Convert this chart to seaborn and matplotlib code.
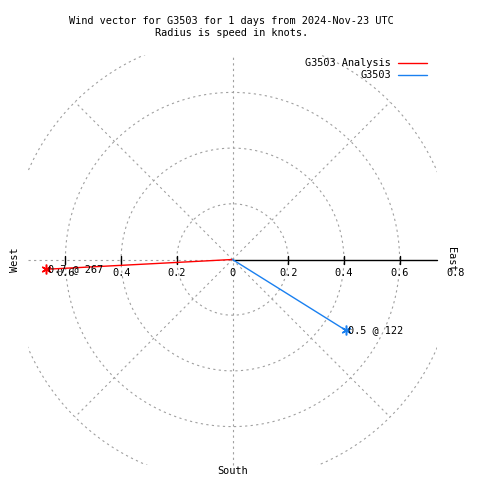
import numpy as np
import pandas as pd
import matplotlib
matplotlib.use("Agg")
import matplotlib.pyplot as plt
import seaborn as sns
from matplotlib.patches import Rectangle

# --- Data ---
stations = ["G3503 Analysis", "G3503"]
speeds = [0.67, 0.48]          # knots
directions = [267, 122]        # degrees clockwise from north
line_colors = ["#ff0000", "#1a80f0"]
ring_radii = [0.2, 0.4, 0.6, 0.8]
tick_values = [0.2, 0.4, 0.6]
spoke_angles = [45, 135, 225, 315]

title = "Wind vector for G3503 for 1 days from 2024-Nov-23 UTC\nRadius is speed in knots."

# --- Geometry (px -> data) ---
scale = 278.5
cx, cy = 232.5, 220.5
box = 205 / scale

sns.set_style("white")
plt.rcParams['font.family'] = ['DejaVu Sans Mono', 'DejaVu Sans']
plt.rcParams['text.color'] = 'black'
fs = 7.4

fig = plt.figure(figsize=(4.8, 4.8), dpi=100)
ax = fig.add_axes([0, 0, 1, 1])
ax.set_xlim(-cx / scale, (480 - cx) / scale)
ax.set_ylim(-cy / scale, (480 - cy) / scale)
ax.set_aspect("equal")
ax.axis("off")

clip = Rectangle((-box, -box), 2 * box, 2 * box, transform=ax.transData,
                 fill=False, visible=False)
ax.add_patch(clip)

grid_kw = dict(color="#a0a0a0", lw=0.8, dashes=(2, 3), zorder=1)

# rings
t = np.linspace(0, 2 * np.pi, 400)
for r in ring_radii:
    ln, = ax.plot(r * np.cos(t), r * np.sin(t), **grid_kw)
    ln.set_clip_path(clip)

# spokes
for a in spoke_angles:
    rad = np.deg2rad(a)
    ax.plot([0, 0.8 * np.sin(rad)], [0, 0.8 * np.cos(rad)], **grid_kw)
ax.plot([0, 0], [-box, box], **grid_kw)
ax.plot([-box, 0], [0, 0], **grid_kw)

# solid east axis
ax.plot([0, box], [0, 0], color="black", lw=1, zorder=2)
tick_h = 4 / scale
for v in tick_values:
    for s in (-1, 1):
        ax.plot([s * v, s * v], [-tick_h, tick_h], color="black", lw=1, zorder=2)
        ax.text(s * v, -14 / scale, f"{v:.1f}", ha="center", va="center", fontsize=fs, zorder=3)
ax.text(0, -14 / scale, "0", ha="center", va="center", fontsize=fs, zorder=3)
ax.text(0.8, -14 / scale, "0.8", ha="center", va="center", fontsize=fs, zorder=3)

# compass labels
ax.text(-218 / scale, 0, "West", rotation=90, ha="center", va="center", fontsize=fs)
ax.text(219 / scale, 0, "East", rotation=-90, ha="center", va="center", fontsize=fs)
ax.text(0, -211 / scale, "South", ha="center", va="center", fontsize=fs)

# --- Vectors ---
rows = []
for name, sp, d in zip(stations, speeds, directions):
    rad = np.deg2rad(d)
    rows.append({"station": name, "x": 0.0, "y": 0.0, "step": 0})
    rows.append({"station": name, "x": sp * np.sin(rad), "y": sp * np.cos(rad), "step": 1})
vec = pd.DataFrame(rows)
palette = dict(zip(stations, line_colors))
sns.lineplot(data=vec, x="x", y="y", hue="station", units="station", estimator=None,
             sort=False, palette=palette, lw=1, legend=False, ax=ax, zorder=4)
ends = vec[vec["step"] == 1]
for _, row in ends.iterrows():
    i = stations.index(row["station"])
    ax.plot(row["x"], row["y"], marker=(6, 2, 0), ms=7, mew=1.1,
            color=line_colors[i], zorder=5)
    ax.text(row["x"] + 2 / scale, row["y"], f"{speeds[i]:.1f} @ {directions[i]}",
            ha="left", va="center", fontsize=fs, zorder=6)

# --- Legend (manual, top right) ---
for i, (name, col) in enumerate(zip(stations, line_colors)):
    yy = (259 - 62.5 - 12.5 * i) / scale
    ax.text((391 - cx) / scale, yy, name, ha="right", va="center", fontsize=fs)
    ax.plot([(398 - cx) / scale, (427 - cx) / scale], [yy, yy], color=col, lw=1)

# --- Title ---
fig.text(231.5 / 480, 1 - 27 / 480, title, ha="center", va="center", fontsize=fs,
         linespacing=1.3)

fig.savefig("out.png", dpi=100)
